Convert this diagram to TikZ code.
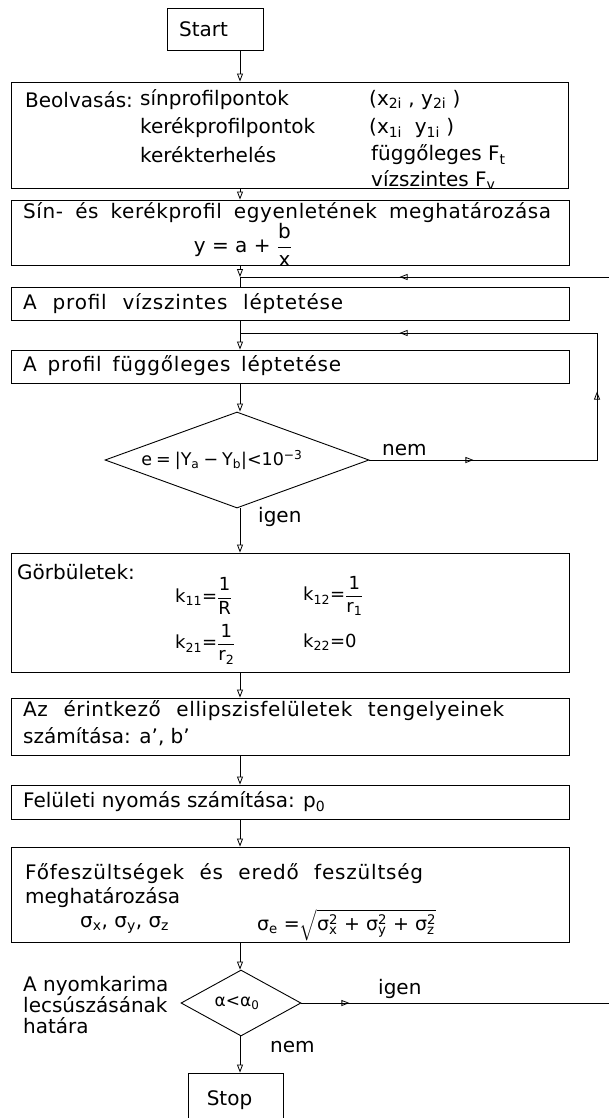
\documentclass[tikz,border=0pt]{standalone}
\usepackage{fontspec}
\setmainfont{DejaVu Sans}
\usepackage{amsmath}
\usetikzlibrary{arrows.meta,shapes.geometric,decorations.markings}
\tikzset{
  tri/.tip={Triangle[open,length=8pt,width=6pt]},
  box/.style={draw,line width=0.9pt,inner sep=0pt},
  dia/.style={draw,shape=diamond,line width=0.9pt,inner sep=0pt},
  txt/.style={anchor=west,inner sep=0pt,font=\fontsize{20}{25}\selectfont},
  ctxt/.style={anchor=center,inner sep=0pt,font=\fontsize{20}{25}\selectfont},
  ftxt/.style={anchor=west,inner sep=0pt,font=\fontsize{18}{22}\selectfont},
  ln/.style={line width=0.8pt},
  arr/.style={line width=0.8pt,-tri},
}
\newcommand{\tx}[1]{\text{#1}}
\newcommand{\lsw}[3]{\makebox[#1pt][s]{\addfontfeature{LetterSpace=#2}#3}}
\begin{document}
\begin{tikzpicture}[x=1pt,y=-1pt]
\clip (0,0) rectangle (609,1118);
% boxes
\node[box,minimum width=96pt,minimum height=42pt] (start) at (215,29) {};
\node[box,minimum width=557pt,minimum height=106pt] (b1) at (289.5,135) {};
\node[box,minimum width=558pt,minimum height=65pt] (b2) at (290,232.5) {};
\node[box,minimum width=558pt,minimum height=33pt] (b3) at (290,303.5) {};
\node[box,minimum width=558pt,minimum height=33pt] (b4) at (290,366.5) {};
\node[dia,minimum width=264pt,minimum height=96pt] (d1) at (237,460) {};
\node[box,minimum width=558pt,minimum height=119pt] (b5) at (290,612.5) {};
\node[box,minimum width=558pt,minimum height=57pt] (b6) at (290,726.5) {};
\node[box,minimum width=558pt,minimum height=34pt] (b7) at (290,802) {};
\node[box,minimum width=558pt,minimum height=95pt] (b8) at (290,894.5) {};
\node[dia,minimum width=120pt,minimum height=66pt] (d2) at (241,1003) {};
\node[box,minimum width=95pt,minimum height=54pt] (stop) at (235.5,1100) {};
\coordinate (mx) at (240,0);
\coordinate (j1) at (240,277);
\coordinate (j2) at (240,333);
% texts
\node[ctxt] (tstart) at (203.5,29) {Start};
\node[txt] (t1a) at (25,100) {Beolvasás:};
\node[txt] (t1b) at (140,100) {sínprofilpontok};
\node[txt] (t1c) at (369,100) {(x\textsubscript{2i} , y\textsubscript{2i} )};
\node[txt] (t1d) at (140,128) {kerékprofilpontok};
\node[txt] (t1e) at (369,128) {(x\textsubscript{1i} \ y\textsubscript{1i} )};
\node[txt] (t1f) at (140,155) {kerékterhelés};
\node[txt] (t1g) at (371,155) {függőleges F\textsubscript{t}};
\node[txt] (t1h) at (371,180) {vízszintes F\textsubscript{v}};
\node[txt] (t2a) at (23,213) {\lsw{528}{3}{Sín- és kerékprofil egyenletének meghatározása}};
\node[ctxt] (t2b) at (243,245) {$\tx{y = a + }\dfrac{\tx{b}}{\tx{x}}$};
\node[txt] (t3) at (23,304) {\lsw{320}{4}{A profil vízszintes léptetése}};
\node[txt] (t4) at (23,366) {\lsw{318}{4}{A profil függőleges léptetése}};
\node[ctxt,font=\fontsize{17.5}{20}\selectfont] (td1) at (222,460) {e\hspace{4pt}=\hspace{4pt}|Y\textsubscript{a}\hspace{4pt}−\hspace{4pt}Y\textsubscript{b}|<10\textsuperscript{−3}};
\node[txt] (tnem1) at (382,450) {nem};
\node[txt] (tigen1) at (258,517) {igen};
\node[txt] (t5a) at (17,572) {Görbületek:};
\node[ftxt] (t5b) at (175,596) {$\tx{k}_{\tx{11}}\tx{=}\dfrac{\tx{1}}{\tx{R}}$};
\node[ftxt] (t5c) at (303,596) {$\tx{k}_{\tx{12}}\tx{=}\dfrac{\tx{1}}{\tx{r}_{\tx{1}}}$};
\node[ftxt] (t5d) at (175,644) {$\tx{k}_{\tx{21}}\tx{=}\dfrac{\tx{1}}{\tx{r}_{\tx{2}}}$};
\node[ftxt] (t5e) at (303,642) {$\tx{k}_{\tx{22}}\tx{=0}$};
\node[txt] (t6a) at (23,711) {\lsw{481}{3}{Az érintkező ellipszisfelületek tengelyeinek}};
\node[txt] (t6b) at (23,737) {számítása: a', b'};
\node[txt] (t7) at (23,802) {Felületi nyomás számítása: p\textsubscript{0}};
\node[txt] (t8a) at (25,874) {\lsw{398}{4}{Főfeszültségek és eredő feszültség}};
\node[txt] (t8b) at (25,898) {meghatározása};
\node[txt] (t8c) at (80,925) {σ\textsubscript{x}, σ\textsubscript{y}, σ\textsubscript{z}};
\node[ftxt,font=\fontsize{19}{22}\selectfont] (t8d) at (257,925) {$\tx{σ}_{\tx{e}}\tx{ =}\sqrt{\tx{σ}^{\tx{2}}_{\tx{x}}\tx{ + σ}^{\tx{2}}_{\tx{y}}\tx{ + σ}^{\tx{2}}_{\tx{z}}}$};
\node[ctxt,font=\fontsize{17}{20}\selectfont] (td2) at (237,1003) {α<α\textsubscript{0}};
\node[anchor=north west,inner sep=0pt,align=left,font=\fontsize{20}{21}\selectfont] (tside) at (23,976) {A nyomkarima\\lecsúszásának\\határa};
\node[txt] (tigen2) at (378,989) {igen};
\node[txt] (tnem2) at (270,1047) {nem};
\node[ctxt] (tstop) at (229.5,1100) {Stop};
% connectors
\draw[arr] (start.south -| mx) -- (b1.north -| mx);
\draw[arr] (b1.south -| mx) -- (b2.north -| mx);
\draw[arr] (b2.south -| mx) -- (j1);
\draw[ln] (j1) -- (b3.north -| mx);
\draw[ln] (b3.south -| mx) -- (j2);
\draw[arr] (j2) -- (b4.north -| mx);
\draw[arr] (b4.south -| mx) -- (d1.north -| mx);
\draw[arr] (d1.south -| mx) -- (b5.north -| mx);
\draw[arr] (b5.south -| mx) -- (b6.north -| mx);
\draw[arr] (b6.south -| mx) -- (b7.north -| mx);
\draw[arr] (b7.south -| mx) -- (b8.north -| mx);
\draw[arr] (b8.south -| mx) -- (d2.north -| mx);
\draw[arr] (d2.south -| mx) -- (stop.north -| mx);
\draw[ln,postaction={decorate},decoration={markings,
   mark=at position 104pt with {\arrow{tri}},
   mark=at position 296pt with {\arrow{tri}},
   mark=at position 552pt with {\arrow{tri}}}]
  (d1.east) -- (597,460) -- (597,333) -- (j2);
\draw[ln,postaction={decorate},decoration={markings,
   mark=at position 48pt with {\arrow{tri}},
   mark=at position 1275pt with {\arrow{tri}}}]
  (d2.east) -- (625,1003) -- (625,277) -- (j1);
\end{tikzpicture}
\end{document}
